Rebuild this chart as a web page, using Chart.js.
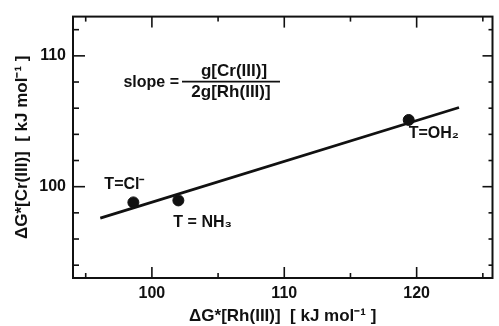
<!DOCTYPE html>
<html lang="en">
<head>
<meta charset="UTF-8">
<title>ΔG* Cr(III) vs Rh(III)</title>
<script src="https://cdn.jsdelivr.net/npm/chart.js"></script>
<style>
  html, body { margin: 0; padding: 0; background: #fff; }
</style>
</head>
<body>
<canvas id="chart" width="499" height="326"></canvas>
<script>
// activation free energies, kJ/mol
const ligands = ['T=Cl⁻', 'T = NH₃', 'T=OH₂'];
const rhValues = [98.6, 102.0, 119.4];
const crValues = [98.8, 98.95, 105.1];

// the fitted line, read at its two ends
const fitRh = [96.1, 123.2];
const fitCr = [97.6, 106.05];

// axis ticks
const xTicks = [100, 110, 120];
const xMinor = [95, 105, 115, 125];
const yTicks = [100, 110];
const yMinor = [94, 96, 98, 102, 104, 106, 108, 112];

const ink = '#111';
const family = "'Liberation Sans', Arial, sans-serif";

// frame with inward ticks on all four sides
const frameTicks = {
    id: 'frameTicks',
    afterDraw(chart) {
        const {ctx, chartArea: a, scales: {x, y}} = chart;
        ctx.save();
        ctx.strokeStyle = ink;
        ctx.lineWidth = 2;
        ctx.strokeRect(a.left, a.top, a.right - a.left, a.bottom - a.top);
        ctx.lineWidth = 1.6;
        const seg = (x1, y1, x2, y2) => {
            ctx.beginPath(); ctx.moveTo(x1, y1); ctx.lineTo(x2, y2); ctx.stroke();
        };
        xTicks.forEach(v => {
            const p = x.getPixelForValue(v);
            seg(p, a.bottom, p, a.bottom - 11);
            seg(p, a.top, p, a.top + 11);
        });
        xMinor.forEach(v => {
            const p = x.getPixelForValue(v);
            seg(p, a.bottom, p, a.bottom - 5);
            seg(p, a.top, p, a.top + 5);
        });
        yTicks.forEach(v => {
            const p = y.getPixelForValue(v);
            seg(a.left, p, a.left + 12, p);
            seg(a.right, p, a.right - 10, p);
        });
        yMinor.forEach(v => {
            const p = y.getPixelForValue(v);
            seg(a.left, p, a.left + 6, p);
            seg(a.right, p, a.right - 4, p);
        });
        ctx.restore();
    }
};

// point labels and the slope formula
const labelOffsets = [[-29, -18], [-5, 22], [0, 14]];
const annotations = {
    id: 'annotations',
    afterDraw(chart) {
        const {ctx, chartArea: a, scales: {x, y}} = chart;
        ctx.save();
        ctx.fillStyle = ink;
        ctx.font = "bold 16px " + family;
        ctx.textBaseline = 'middle';
        ctx.textAlign = 'left';
        ligands.forEach((t, i) => {
            const px = x.getPixelForValue(rhValues[i]) + labelOffsets[i][0];
            const py = y.getPixelForValue(crValues[i]) + labelOffsets[i][1];
            ctx.fillText(t, px, py);
        });

        // slope = g[Cr(III)] / 2g[Rh(III)]
        const cx = a.left + 158, cy = a.top + 65;
        ctx.textAlign = 'right';
        ctx.fillText('slope =', cx - 52, cy + 1);
        ctx.textAlign = 'center';
        ctx.font = "bold 17px " + family;
        ctx.fillText('g[Cr(III)]', cx + 3, cy - 10);
        ctx.fillText('2g[Rh(III)]', cx, cy + 11);
        ctx.strokeStyle = ink;
        ctx.lineWidth = 1.6;
        ctx.beginPath();
        ctx.moveTo(cx - 49, cy);
        ctx.lineTo(cx + 49, cy);
        ctx.stroke();
        ctx.restore();
    }
};

new Chart(document.getElementById('chart'), {
    type: 'scatter',
    data: {
        datasets: [{
            label: 'complexes',
            data: rhValues.map((v, i) => ({x: v, y: crValues[i]})),
            backgroundColor: ink,
            borderColor: ink,
            pointRadius: 5.5,
            pointHoverRadius: 5.5
        }, {
            type: 'line',
            label: 'fit',
            data: fitRh.map((v, i) => ({x: v, y: fitCr[i]})),
            borderColor: ink,
            borderWidth: 2.8,
            pointRadius: 0,
            fill: false
        }]
    },
    options: {
        responsive: false,
        animation: false,
        layout: {padding: {top: 11, right: 2, left: 0, bottom: 0}},
        plugins: {
            legend: {display: false},
            tooltip: {enabled: false}
        },
        scales: {
            x: {
                type: 'linear',
                min: 94.04,
                max: 125.73,
                grid: {display: false, drawTicks: false},
                border: {display: false},
                afterBuildTicks: s => { s.ticks = xTicks.map(v => ({value: v})); },
                afterFit: s => { s.height = 48; },
                ticks: {
                    color: ink,
                    padding: 6,
                    maxRotation: 0,
                    font: {family: family, size: 16, weight: 'bold'}
                },
                title: {
                    display: true,
                    text: 'ΔG*[Rh(III)]  [ kJ mol⁻¹ ]',
                    color: ink,
                    padding: {top: 0, bottom: -1},
                    font: {family: family, size: 17, weight: 'bold'}
                }
            },
            y: {
                type: 'linear',
                min: 93.02,
                max: 113.0,
                grid: {display: false, drawTicks: false},
                border: {display: false},
                afterBuildTicks: s => { s.ticks = yTicks.map(v => ({value: v})); },
                afterFit: s => { s.width = 73; },
                ticks: {
                    color: ink,
                    padding: 7,
                    font: {family: family, size: 16, weight: 'bold'}
                },
                title: {
                    display: true,
                    text: 'ΔG*[Cr(III)]  [ kJ mol⁻¹ ]',
                    color: ink,
                    padding: {top: 12, bottom: 0},
                    font: {family: family, size: 17, weight: 'bold'}
                }
            }
        }
    },
    plugins: [frameTicks, annotations]
});
</script>
</body>
</html>
